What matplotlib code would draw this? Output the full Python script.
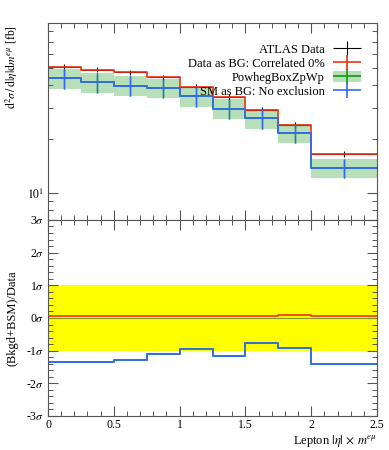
import numpy as np
import matplotlib
matplotlib.use('Agg')
import matplotlib.pyplot as plt
from matplotlib.ticker import MultipleLocator, FixedLocator, NullFormatter, FixedFormatter
from matplotlib.patches import Patch
from matplotlib.legend_handler import HandlerErrorbar

plt.rcParams['font.family'] = ['Liberation Serif', 'DejaVu Serif']
plt.rcParams['mathtext.fontset'] = 'stix'
plt.rcParams['font.size'] = 8.5

# bin edges in lepton |eta| x m^emu
edges = [0, 0.25, 0.5, 0.75, 1.0, 1.25, 1.5, 1.75, 2.0, 2.5]

# top panel values [fb]
data = [50.8, 48.7, 47.2, 44.3, 39.3, 34.4, 29.2, 24.1, 16.5]
data_err = [1.7, 1.6, 1.6, 1.5, 1.4, 1.2, 1.1, 0.9, 0.7]
data_bg = [50.8, 48.7, 47.2, 44.3, 39.3, 34.4, 29.2, 24.1, 16.5]
powheg = [43.7, 41.5, 39.8, 38.5, 34.7, 29.6, 26.1, 21.6, 13.8]
powheg_err = [5.5, 5.2, 5.0, 4.8, 4.3, 3.7, 3.3, 2.7, 1.75]
sm = [43.7, 41.5, 39.8, 38.5, 34.7, 29.6, 26.1, 21.6, 13.8]
sm_err = [5.5, 5.2, 5.0, 4.8, 4.3, 3.7, 3.3, 2.7, 1.75]

# lower panel, in units of sigma
ratio_data_bg = [0.05, 0.05, 0.05, 0.05, 0.05, 0.05, 0.05, 0.08, 0.05]
ratio_powheg = [-1.34, -1.34, -1.30, -1.09, -0.95, -1.17, -0.76, -0.93, -1.41]
ratio_sm = [-1.34, -1.34, -1.30, -1.09, -0.95, -1.17, -0.76, -0.93, -1.41]

sig_ticks = [3, 2, 1, 0, -1, -2, -3]
sig_labels = ['3$\\sigma$', '2$\\sigma$', '1$\\sigma$', '0$\\sigma$',
              '-1$\\sigma$', '-2$\\sigma$', '-3$\\sigma$']

edges = np.array(edges)
cen = 0.5 * (edges[1:] + edges[:-1])
hw = 0.5 * (edges[1:] - edges[:-1])

def steps(vals):
    return np.append(vals, vals[-1])

red = '#ee3311'
blue = '#3366ff'
green = '#119911'
band = '#b8e0b8'
framec = '#555555'

fig = plt.figure(figsize=(3.89, 4.5), dpi=100)
ax = fig.add_axes([0.1234, 0.5111, 0.8458, 0.4378])
ax2 = fig.add_axes([0.1234, 0.0756, 0.8458, 0.4356])

# top panel
lo = np.array(powheg) - np.array(powheg_err)
hi = np.array(powheg) + np.array(powheg_err)
ax.fill_between(edges, steps(lo), steps(hi), step='post', color=band, lw=0)
ax.step(edges, steps(powheg), where='post', color=green, lw=1.2)
ax.errorbar(cen, powheg, yerr=powheg_err, fmt='none', ecolor=green, elinewidth=1)
ax.errorbar(cen, data, xerr=hw, yerr=data_err, fmt='none', ecolor='black', elinewidth=0.8)
ax.step(edges, steps(data_bg), where='post', color=red, lw=1.2)
ax.errorbar(cen, sm, yerr=sm_err, fmt='none', ecolor=blue, elinewidth=1)
ax.step(edges, steps(sm), where='post', color=blue, lw=1.2)

ax.set_yscale('log')
ax.set_ylim(7.06, 89)
ax.set_xlim(0, 2.5)
ax.yaxis.set_major_locator(FixedLocator([10]))
ax.yaxis.set_major_formatter(FixedFormatter(['$10^1$']))
ax.yaxis.set_minor_locator(FixedLocator([8, 9, 20, 30, 40, 50, 60, 70, 80]))
ax.yaxis.set_minor_formatter(NullFormatter())
ax.xaxis.set_major_locator(MultipleLocator(0.5))
ax.xaxis.set_minor_locator(MultipleLocator(0.1))
ax.set_xticklabels([])
ax.set_ylabel(r'$\mathrm{d}^2\sigma\,/\,\mathrm{d}|\eta|\mathrm{d}m^{e\mu}$ [fb]', loc='top', fontsize=8.5)
ax.yaxis.set_label_coords(-0.085, 0.99)

# legend
h_data = ax.errorbar([], [], xerr=[], yerr=[], fmt='none', ecolor='black', elinewidth=0.8)
h_red = ax.errorbar([], [], xerr=[], yerr=[], fmt='none', ecolor=red, elinewidth=1.2)
h_green = (Patch(color=band, lw=0),
           ax.errorbar([], [], xerr=[], yerr=[], fmt='none', ecolor=green, elinewidth=1.2))
h_blue = ax.errorbar([], [], xerr=[], yerr=[], fmt='none', ecolor=blue, elinewidth=1.2)
hm = HandlerErrorbar(xerr_size=1.15, yerr_size=0.6)
ax.legend([h_data, h_red, h_green, h_blue],
          ['ATLAS Data', 'Data as BG: Correlated 0%', 'PowhegBoxZpWp', 'SM as BG: No exclusion'],
          handler_map={type(h_data): hm},
          loc='upper right', bbox_to_anchor=(0.975, 0.935), frameon=False, markerfirst=False,
          handlelength=2.3, handleheight=0.9, handletextpad=0.6, labelspacing=0.12,
          borderaxespad=0.2, fontsize=9)

# lower panel
ax2.axhspan(-1, 1, color='#ffff00', lw=0)
ax2.axhline(0, color='#889922', lw=0.8)
ax2.step(edges, steps(ratio_data_bg), where='post', color=red, lw=1.2)
ax2.step(edges, steps(ratio_powheg), where='post', color=green, lw=1.2)
ax2.step(edges, steps(ratio_sm), where='post', color=blue, lw=1.2)
ax2.set_xlim(0, 2.5)
ax2.set_ylim(-3, 3)
ax2.yaxis.set_major_locator(FixedLocator(sig_ticks))
ax2.yaxis.set_major_formatter(FixedFormatter(sig_labels))
ax2.yaxis.set_minor_locator(MultipleLocator(0.2))
ax2.xaxis.set_minor_locator(MultipleLocator(0.1))
ax2.set_xticks([0, 0.5, 1, 1.5, 2, 2.5])
ax2.set_xticklabels(['0', '0.5', '1', '1.5', '2', '2.5'])
ax2.set_ylabel('(Bkgd+BSM)/Data', fontsize=9)
ax2.yaxis.set_label_coords(-0.09, 0.5)
ax2.set_xlabel(r'Lepton $|\eta|\,\times\,m^{e\mu}$', loc='right', fontsize=9)
ax2.xaxis.set_label_coords(1.0, -0.085)

for a in (ax, ax2):
    a.tick_params(which='both', direction='in', top=True, right=True, color=framec)
    a.tick_params(which='major', length=7, width=0.8, pad=3)
    a.tick_params(which='minor', length=3.6, width=0.7)
    for s in a.spines.values():
        s.set_color(framec)
        s.set_linewidth(0.8)
ax2.tick_params(axis='x', which='major', pad=2)

fig.savefig('out.png', dpi=100)
